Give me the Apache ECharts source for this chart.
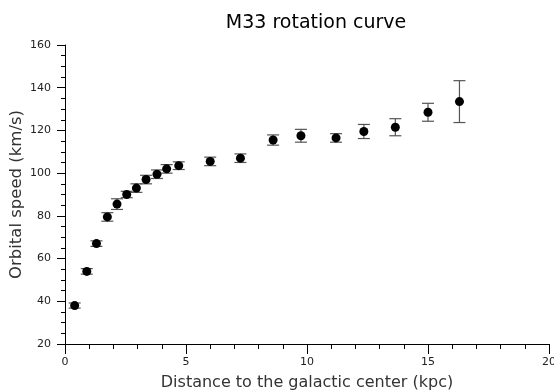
<!DOCTYPE html>
<html>
<head>
<meta charset="utf-8">
<script src="https://cdn.jsdelivr.net/npm/echarts@6/dist/echarts.min.js"></script>
<style>
  html, body { margin: 0; padding: 0; background: #fff; }
  #chart { width: 554px; height: 391px; }
</style>
</head>
<body>
<div id="chart"></div>
<script>
  // distance to galactic center (kpc)
  var distance = [0.4, 0.9, 1.3, 1.75, 2.15, 2.55, 2.95, 3.35, 3.8, 4.2, 4.7, 6.0, 7.25, 8.6, 9.75, 11.2, 12.35, 13.65, 15.0, 16.3];
  // orbital speed (km/s)
  var speed = [38, 54, 67, 79.5, 85.5, 90, 93, 97, 99.5, 102, 103.5, 105.5, 107, 115.5, 117.5, 116.5, 119.5, 121.5, 128.5, 133.5];
  // error (km/s, +/-)
  var speedErr = [1.2, 1.3, 1.3, 2, 2.5, 1.5, 2, 2, 2, 2, 1.8, 2, 2, 2.4, 3, 2, 3.3, 4, 4.2, 9.8];

  var chart = echarts.init(document.getElementById('chart'));
  var font = 'DejaVu Sans';

  var points = distance.map(function (d, i) { return [d, speed[i]]; });
  var bars = distance.map(function (d, i) { return [d, speed[i] - speedErr[i], speed[i] + speedErr[i]]; });

  var option = {
    animation: false,
    title: {
      text: 'M33 rotation curve',
      left: 311,
      textAlign: 'center',
      top: 9,
      textStyle: { fontFamily: font, fontSize: 19, fontWeight: 'normal', color: '#000' }
    },
    grid: { left: 65, right: 5, top: 45, bottom: 47, containLabel: false, outerBoundsMode: 'none' },
    xAxis: {
      type: 'value',
      min: 0, max: 20, interval: 5,
      name: 'Distance to the galactic center (kpc)',
      nameLocation: 'middle',
      nameGap: 31,
      nameTextStyle: { fontFamily: font, fontSize: 16, color: '#333' },
      axisLine: { show: true, onZero: false, lineStyle: { color: '#000', width: 1 } },
      axisTick: { show: true, length: 10, lineStyle: { color: '#000' } },
      minorTick: { show: true, splitNumber: 5, length: 5, lineStyle: { color: '#000' } },
      axisLabel: { fontFamily: font, fontSize: 11, color: '#222', margin: 13 },
      splitLine: { show: false }
    },
    yAxis: {
      type: 'value',
      min: 20, max: 160, interval: 20,
      name: 'Orbital speed (km/s)',
      nameLocation: 'middle',
      nameGap: 40,
      nameMoveOverlap: false,
      nameTextStyle: { fontFamily: font, fontSize: 16.5, color: '#333' },
      axisLine: { show: true, onZero: false, lineStyle: { color: '#000', width: 1 } },
      axisTick: { show: true, length: 8, lineStyle: { color: '#000' } },
      minorTick: { show: true, splitNumber: 4, length: 4, lineStyle: { color: '#000' } },
      axisLabel: { fontFamily: font, fontSize: 11, color: '#222', margin: 14 },
      splitLine: { show: false }
    },
    series: [
      {
        type: 'custom',
        data: bars,
        encode: { x: 0, y: [1, 2] },
        renderItem: function (params, api) {
          var lo = api.coord([api.value(0), api.value(1)]);
          var hi = api.coord([api.value(0), api.value(2)]);
          var w = 6;
          var style = { stroke: '#555', lineWidth: 1.2 };
          return {
            type: 'group',
            children: [
              { type: 'line', shape: { x1: lo[0], y1: lo[1], x2: hi[0], y2: hi[1] }, style: style },
              { type: 'line', shape: { x1: lo[0] - w, y1: lo[1], x2: lo[0] + w, y2: lo[1] }, style: style },
              { type: 'line', shape: { x1: hi[0] - w, y1: hi[1], x2: hi[0] + w, y2: hi[1] }, style: style }
            ]
          };
        },
        z: 1
      },
      {
        type: 'scatter',
        data: points,
        symbol: 'circle',
        symbolSize: 9,
        itemStyle: { color: '#000', opacity: 1 },
        z: 2
      }
    ]
  };

  chart.setOption(option);
</script>
</body>
</html>
